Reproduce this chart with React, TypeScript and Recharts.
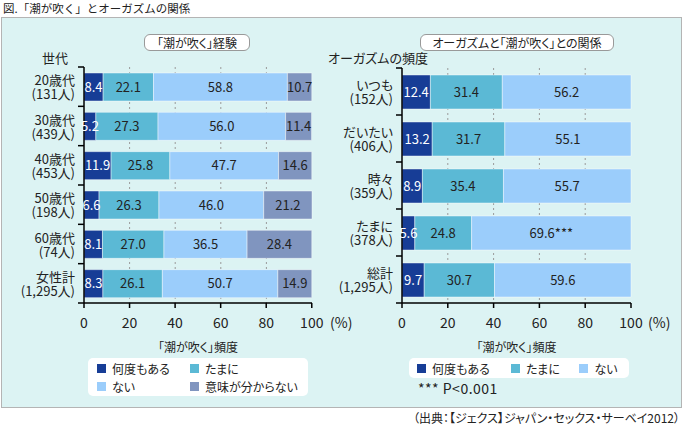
import { Bar, BarChart, CartesianGrid, LabelList, XAxis, YAxis } from "recharts";

const FONT = '"Noto Sans CJK JP", "Noto Sans", sans-serif';
const INK = "#222";

// series shared by both panels
const seriesNames = ["何度もある", "たまに", "ない", "意味が分からない"];
const seriesColors = ["#173d96", "#5bb9d5", "#9bcdfb", "#8095bf"];
const labelColors = ["#ffffff", INK, INK, INK];

// left: 世代
const ageGroups = ["20歳代", "30歳代", "40歳代", "50歳代", "60歳代", "女性計"];
const ageCounts = ["(131人)", "(439人)", "(453人)", "(198人)", "(74人)", "(1,295人)"];
const ageOften = [8.4, 5.2, 11.9, 6.6, 8.1, 8.3];
const ageSometimes = [22.1, 27.3, 25.8, 26.3, 27.0, 26.1];
const ageNever = [58.8, 56.0, 47.7, 46.0, 36.5, 50.7];
const ageUnknown = [10.7, 11.4, 14.6, 21.2, 28.4, 14.9];

// right: オーガズムの頻度
const orgGroups = ["いつも", "だいたい", "時々", "たまに", "総計"];
const orgCounts = ["(152人)", "(406人)", "(359人)", "(378人)", "(1,295人)"];
const orgOften = [12.4, 13.2, 8.9, 5.6, 9.7];
const orgSometimes = [31.4, 31.7, 35.4, 24.8, 30.7];
const orgNever = [56.2, 55.1, 55.7, 69.6, 59.6];
const orgNeverMark = ["", "", "", "***", ""];

const xTicks = [0, 20, 40, 60, 80, 100];
const gridValues = [20, 40, 60, 80];

const fmt = (v: number) => v.toFixed(1);

const ageData = ageGroups.map((g, i) => ({
  group: g,
  s0: ageOften[i],
  s1: ageSometimes[i],
  s2: ageNever[i],
  s3: ageUnknown[i],
  l0: fmt(ageOften[i]),
  l1: fmt(ageSometimes[i]),
  l2: fmt(ageNever[i]),
  l3: fmt(ageUnknown[i]),
}));

const orgData = orgGroups.map((g, i) => ({
  group: g,
  s0: orgOften[i],
  s1: orgSometimes[i],
  s2: orgNever[i],
  l0: fmt(orgOften[i]),
  l1: fmt(orgSometimes[i]),
  l2: fmt(orgNever[i]) + orgNeverMark[i],
}));

function CategoryTick(props: any, counts: string[], fallbackHalf: number) {
  const { x, y, payload, index, visibleTicksCount } = props;
  const half = payload.offset ?? fallbackHalf;
  const axisX = x + 9;
  return (
    <g>
      <text x={x} y={y - 7} textAnchor="end" dominantBaseline="central" fontSize={13} fill={INK}>
        {payload.value}
      </text>
      <text x={x} y={y + 7} textAnchor="end" dominantBaseline="central" fontSize={13} fill={INK}>
        {counts[index]}
      </text>
      <line x1={axisX - 6} x2={axisX} y1={y - half} y2={y - half} stroke="#000" strokeWidth={1.5} />
      {index === visibleTicksCount - 1 && (
        <line x1={axisX - 6} x2={axisX} y1={y + half} y2={y + half} stroke="#000" strokeWidth={1.5} />
      )}
    </g>
  );
}

function StackChart({
  data,
  counts,
  series,
  width,
  height,
  yWidth,
  top,
  right,
  barSize,
}: {
  data: any[];
  counts: string[];
  series: number;
  width: number;
  height: number;
  yWidth: number;
  top: number;
  right: number;
  barSize: number;
}) {
  const plotH = height - top - 7 - 30;
  return (
    <BarChart
      width={width}
      height={height}
      data={data}
      layout="vertical"
      margin={{ top, right, bottom: 7, left: 0 }}
    >
      <CartesianGrid
        horizontal={false}
        stroke="#9a9a9a"
        strokeDasharray="2 3"
        verticalCoordinatesGenerator={({ offset }: any) =>
          gridValues.map((v) => offset.left + (offset.width * v) / 100)
        }
      />
      <XAxis
        type="number"
        domain={[0, 100]}
        ticks={xTicks}
        height={30}
        tickSize={5}
        tickMargin={10}
        axisLine={{ stroke: "#000", strokeWidth: 1.5 }}
        tickLine={{ stroke: "#000", strokeWidth: 1.5 }}
        tick={{ fill: INK, fontSize: 14 }}
      />
      <YAxis
        type="category"
        dataKey="group"
        width={yWidth}
        tickSize={6}
        tickMargin={3}
        tickLine={false}
        axisLine={{ stroke: "#000", strokeWidth: 1.5 }}
        tick={(p: any) => CategoryTick(p, counts, plotH / data.length / 2)}
      />
      {seriesColors.slice(0, series).map((c, i) => (
        <Bar
          key={i}
          dataKey={`s${i}`}
          stackId="a"
          fill={c}
          barSize={barSize}
          stroke="rgba(255,255,255,0.55)"
          strokeWidth={0.8}
          isAnimationActive={false}
        >
          <LabelList dataKey={`l${i}`} position="center" fill={labelColors[i]} fontSize={13} />
        </Bar>
      ))}
    </BarChart>
  );
}

const abs = (left: number, top: number, extra: any = {}) => ({
  position: "absolute" as const,
  left,
  top,
  ...extra,
});

const boxTitle = {
  background: "#fff",
  border: "1px solid #999",
  borderRadius: 6,
  fontSize: 12,
  lineHeight: "15px",
  textAlign: "center" as const,
  boxSizing: "border-box" as const,
};

function Swatch({ color }: { color: string }) {
  return (
    <span
      style={{ display: "inline-block", width: 9, height: 9, background: color, marginRight: 6 }}
    />
  );
}

export default function App() {
  return (
    <div
      style={{
        position: "relative",
        width: 683,
        height: 429,
        fontFamily: FONT,
        color: INK,
        fontFeatureSettings: '"palt"',
        overflow: "hidden",
      }}
    >
      <style>{"body{margin:0}"}</style>
      <div style={abs(3, 0, { fontSize: 11.5, lineHeight: "16px", fontFeatureSettings: "normal" })}>
        図.「潮が吹く」とオーガズムの関係
      </div>
      <div
        style={abs(1, 17, {
          width: 681,
          height: 391,
          background: "#dcf3f3",
          border: "1px solid #b4b4b4",
          boxSizing: "border-box",
        })}
      />

      <div style={abs(144, 34, { ...boxTitle, width: 106, height: 17 })}>「潮が吹く」経験</div>
      <div style={abs(420, 34, { ...boxTitle, width: 194, height: 17 })}>
        オーガズムと「潮が吹く」との関係
      </div>
      <div style={abs(42, 50, { fontSize: 13, lineHeight: "16px" })}>世代</div>
      <div style={abs(328, 50, { fontSize: 13, lineHeight: "16px" })}>オーガズムの頻度</div>

      <div style={abs(0, 0)}>
        <StackChart
          data={ageData}
          counts={ageCounts}
          series={4}
          width={340}
          height={340}
          yWidth={84}
          top={67}
          right={28}
          barSize={28}
        />
      </div>
      <div style={abs(330, 0)}>
        <StackChart
          data={orgData}
          counts={orgCounts}
          series={3}
          width={353}
          height={340}
          yWidth={72}
          top={68}
          right={52}
          barSize={34}
        />
      </div>

      <div style={abs(330, 314, { fontSize: 14, lineHeight: "16px" })}>(%)</div>
      <div style={abs(648, 314, { fontSize: 14, lineHeight: "16px" })}>(%)</div>

      <div style={abs(84, 339, { width: 228, textAlign: "center", fontSize: 12, lineHeight: "16px" })}>
        「潮が吹く」頻度
      </div>
      <div style={abs(402, 339, { width: 229, textAlign: "center", fontSize: 12, lineHeight: "16px" })}>
        「潮が吹く」頻度
      </div>

      <div
        style={abs(88, 358, {
          width: 220,
          height: 38,
          background: "#fff",
          borderRadius: 5,
          padding: "1px 0 0 9px",
          boxSizing: "border-box",
          display: "grid",
          gridTemplateColumns: "93px 118px",
          gridAutoRows: "18px",
        })}
      >
        {seriesNames.map((n, i) => (
          <div
            key={n}
            style={{ display: "flex", alignItems: "center", fontSize: 12, whiteSpace: "nowrap" }}
          >
            <Swatch color={seriesColors[i]} />
            {n}
          </div>
        ))}
      </div>

      <div
        style={abs(409, 358, {
          width: 220,
          height: 20,
          background: "#fff",
          borderRadius: 5,
          paddingLeft: 8,
          boxSizing: "border-box",
          display: "flex",
          alignItems: "center",
        })}
      >
        {seriesNames.slice(0, 3).map((n, i) => (
          <div
            key={n}
            style={{ width: [95, 69, 50][i], display: "flex", alignItems: "center", fontSize: 12 }}
          >
            <Swatch color={seriesColors[i]} />
            {n}
          </div>
        ))}
      </div>
      <div style={abs(418, 380, { fontSize: 14, lineHeight: "16px", letterSpacing: 0.5 })}>
        *** P&lt;0.001
      </div>

      <div style={abs(0, 410, { width: 680, textAlign: "right", fontSize: 12, lineHeight: "16px" })}>
        （出典：【ジェクス】ジャパン・セックス・サーベイ2012）
      </div>
    </div>
  );
}
